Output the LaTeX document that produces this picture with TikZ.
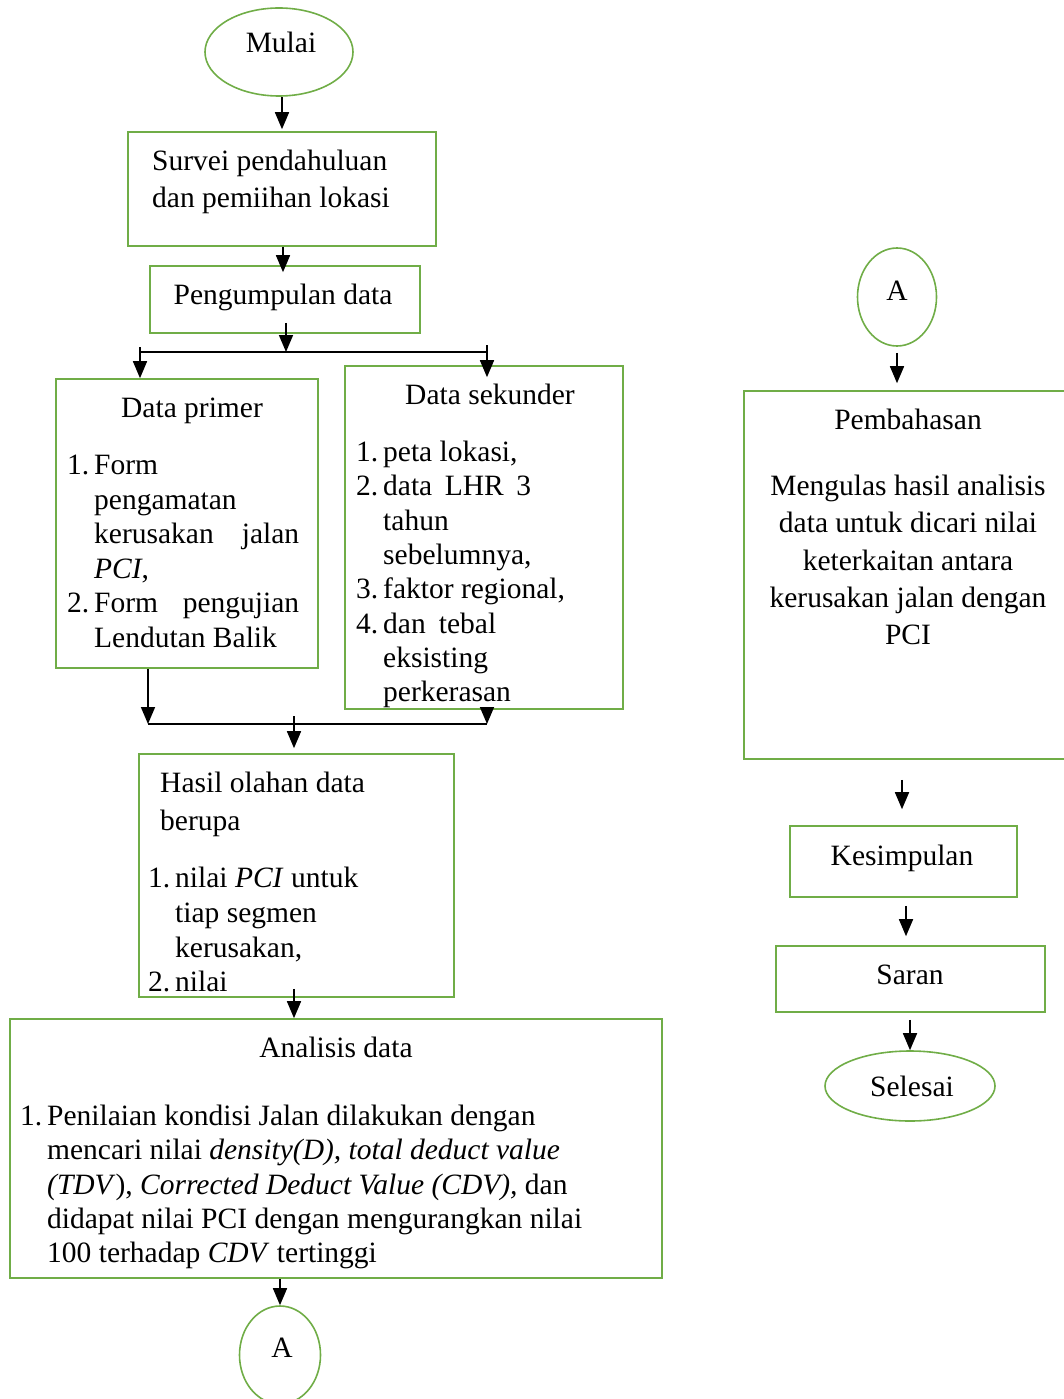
\documentclass[tikz,border=0pt]{standalone}
\usepackage{fontspec}
\setmainfont{Liberation Serif}
\usetikzlibrary{shapes,arrows.meta}
\definecolor{flowgreen}{HTML}{70AD47}
\newcommand{\listno}[1]{\makebox[27pt][l]{#1}}
\newcommand{\listgap}{\hspace*{27pt}}
\tikzset{
  box/.style={rectangle,draw=flowgreen,line width=1.6pt,inner sep=0pt},
  term/.style={ellipse,draw=flowgreen,line width=1.6pt,inner sep=0pt},
  txt/.style={inner sep=0pt,font=\fontsize{29.5}{34.5}\selectfont},
  arr/.style={line width=1.6pt,-{Triangle[length=17pt,width=14pt]}},
  joinline/.style={line width=1.6pt}
}
\begin{document}
\begin{tikzpicture}[x=1pt,y=-1pt]
	\useasboundingbox (0,0) rectangle (1064,1399);

	% left column
	\node[term,minimum width=148pt,minimum height=88pt] (mulai) at (279,52) {};
	\node[box,minimum width=308pt,minimum height=114pt] (survei) at (282,189) {};
	\node[box,minimum width=270pt,minimum height=67pt] (kumpul) at (285,299.5) {};
	\node[box,minimum width=262pt,minimum height=289pt] (primer) at (187,523.5) {};
	\node[box,minimum width=278pt,minimum height=343pt] (sekunder) at (484,537.5) {};
	\node[box,minimum width=315pt,minimum height=243pt] (hasil) at (296.5,875.5) {};
	\node[box,minimum width=652pt,minimum height=259pt] (analisis) at (336,1148.5) {};
	\node[term,minimum width=81pt,minimum height=98pt] (konA) at (280,1355) {};

	% right column
	\node[term,minimum width=79pt,minimum height=98pt] (konB) at (897,297) {};
	\node[box,minimum width=331pt,minimum height=368pt] (bahas) at (909.5,575) {};
	\node[box,minimum width=227pt,minimum height=71pt] (simpul) at (903.5,861.5) {};
	\node[box,minimum width=269pt,minimum height=66pt] (saran) at (910.5,979) {};
	\node[term,minimum width=170pt,minimum height=70pt] (selesai) at (910,1086) {};

	% texts
	\node[txt,anchor=base] (t-mulai) at (281,53) {Mulai};
	\node[txt,anchor=north west,align=left,font=\fontsize{29.5}{37}\selectfont] (t-survei) at (152,150) {Survei pendahuluan\\dan pemiihan lokasi};
	\node[txt,anchor=base] (t-kumpul) at (283,304) {Pengumpulan data};
	\node[txt,anchor=base] (t-primer) at (192,417) {Data primer};
	\node[txt,anchor=north west,align=left] (l-primer) at (67,455) {\listno{1.}Form\\
		\listgap pengamatan\\
		\listgap\makebox[205pt][s]{kerusakan jalan}\\
		\listgap\textit{PCI},\\
		\listno{2.}\makebox[205pt][s]{Form pengujian}\\
		\listgap Lendutan Balik};
	\node[txt,anchor=base] (t-sekunder) at (490,404) {Data sekunder};
	\node[txt,anchor=north west,align=left,font=\fontsize{29.5}{34.3}\selectfont] (l-sekunder) at (356,441) {\listno{1.}peta lokasi,\\
		\listno{2.}\makebox[148pt][s]{data LHR 3}\\
		\listgap tahun\\
		\listgap sebelumnya,\\
		\listno{3.}faktor regional,\\
		\listno{4.}\makebox[113pt][s]{dan tebal}\\
		\listgap eksisting\\
		\listgap perkerasan};
	\node[txt,anchor=north west,align=left,font=\fontsize{29.5}{38}\selectfont] (t-hasil) at (160,772) {Hasil olahan data\\berupa};
	\node[txt,anchor=north west,align=left,font=\fontsize{29.5}{34.7}\selectfont] (l-hasil) at (148,867) {\listno{1.}nilai \textit{PCI} untuk\\
		\listgap tiap segmen\\
		\listgap kerusakan,\\
		\listno{2.}nilai};
	\node[txt,anchor=base] (t-analisis) at (336,1057) {Analisis data};
	\node[txt,anchor=north west,align=left,font=\fontsize{29.5}{34.25}\selectfont] (l-analisis) at (20,1105) {\listno{1.}Penilaian kondisi Jalan dilakukan dengan\\
		\listgap mencari nilai \textit{density(D), total deduct value}\\
		\listgap\textit{(TDV}), \textit{Corrected Deduct Value (CDV),} dan\\
		\listgap didapat nilai PCI dengan mengurangkan nilai\\
		\listgap 100 terhadap \textit{CDV} tertinggi};
	\node[txt,anchor=base] (t-konA) at (282,1357) {A};
	\node[txt,anchor=base] (t-konB) at (897,300) {A};
	\node[txt,anchor=base] (t-bahas) at (908,429) {Pembahasan};
	\node[txt,anchor=north,align=center,font=\fontsize{29.5}{37.2}\selectfont] (l-bahas) at (908,475) {Mengulas hasil analisis\\
		data untuk dicari nilai\\
		keterkaitan antara\\
		kerusakan jalan dengan\\
		PCI};
	\node[txt,anchor=base] (t-simpul) at (902,865) {Kesimpulan};
	\node[txt,anchor=base] (t-saran) at (910,984) {Saran};
	\node[txt,anchor=base] (t-selesai) at (912,1096) {Selesai};

	% branch and merge points
	\coordinate (split) at (286,352);
	\coordinate (split-l) at (140,352);
	\coordinate (split-r) at (487,352);
	\coordinate (merge) at (294,724);
	\coordinate (merge-l) at (148,724);
	\coordinate (merge-r) at (487,724);

	% connectors
	\draw[arr,shorten >=2pt] (mulai.south -| survei.north) -- (survei.north);
	\draw[arr,shorten >=-7pt] (survei.south -| t-kumpul) -- (kumpul.north -| t-kumpul);
	\draw[arr,shorten <=-11pt] (kumpul.south -| split) -- (split);
	\draw[joinline] (split-l) -- (split-r);
	\draw[arr,shorten <=-5pt] (split-l) -- (split-l |- primer.north);
	\draw[arr,shorten <=-7pt,shorten >=-12pt] (split-r) -- (split-r |- sekunder.north);
	\draw[arr] (primer.south -| merge-l) -- (merge-l);
	\draw[arr,shorten <=-9pt] (sekunder.south -| merge-r) -- (merge-r);
	\draw[joinline] (merge-l) -- (merge-r);
	\draw[arr,shorten <=-8pt,shorten >=5pt] (merge) -- (merge |- hasil.north);
	\draw[arr,shorten <=-9pt] (hasil.south -| merge) -- (analisis.north -| merge);
	\draw[arr] (analisis.south -| konA.north) -- (konA.north);
	\draw[arr,shorten <=6pt,shorten >=7pt] (konB.south) -- (bahas.north -| konB.south);
	\draw[arr,shorten <=20pt,shorten >=16pt] (bahas.south -| t-simpul) -- (simpul.north -| t-simpul);
	\draw[arr,shorten <=8pt,shorten >=9pt] (simpul.south -| 906,0) -- (saran.north -| 906,0);
	\draw[arr,shorten <=7pt] (saran.south -| selesai.north) -- (selesai.north);
\end{tikzpicture}
\end{document}
